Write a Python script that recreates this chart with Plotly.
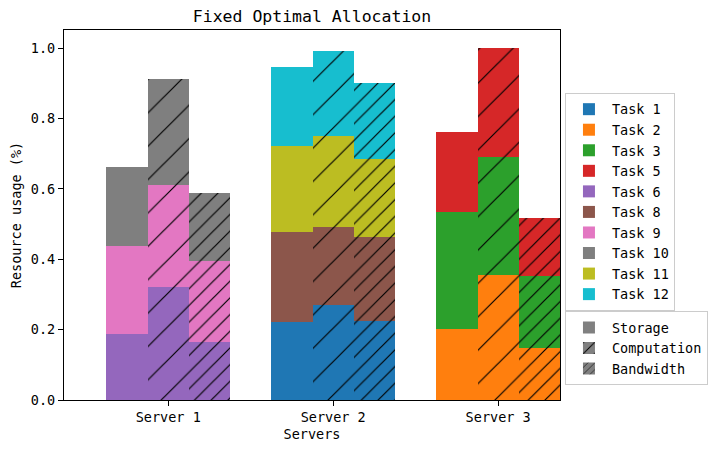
import plotly.graph_objects as go

# ---- data ----
servers = ["Server 1", "Server 2", "Server 3"]
tasks = ["Task 1", "Task 2", "Task 3", "Task 5", "Task 6", "Task 8",
         "Task 9", "Task 10", "Task 11", "Task 12"]
task_server = [1, 2, 2, 2, 0, 1, 0, 0, 1, 1]  # index into servers
storage = [0.223, 0.202, 0.333, 0.227, 0.188, 0.255, 0.250, 0.225, 0.244, 0.225]
computation = [0.270, 0.355, 0.336, 0.309, 0.321, 0.222, 0.289, 0.303, 0.259, 0.241]
bandwidth = [0.225, 0.148, 0.205, 0.165, 0.165, 0.239, 0.230, 0.194, 0.220, 0.218]
resources = ["Storage", "Computation", "Bandwidth"]

# ---- styles ----
colors = ["#1f77b4", "#ff7f0e", "#2ca02c", "#d62728", "#9467bd", "#8c564b",
          "#e377c2", "#7f7f7f", "#bcbd22", "#17becf"]
offsets = [-0.25, 0.0, 0.25]
bar_w = 0.25
shapes = ["", "/", "/"]
psizes = [23.6, 23.6, 11.8]
psolid = [0.05, 0.05, 0.1]
FONT = "DejaVu Sans Mono"

fig = go.Figure()
for i, t in enumerate(tasks):
    s = task_server[i]
    xs = [s + o for o in offsets]
    ys = [storage[i], computation[i], bandwidth[i]]
    fig.add_trace(go.Bar(
        x=xs, y=ys, name=t, width=bar_w, legend="legend",
        marker=dict(color=colors[i], line=dict(width=0),
                    pattern=dict(shape=shapes, size=psizes, solidity=psolid,
                                 fgcolor="black", fgopacity=1, bgcolor=colors[i],
                                 fillmode="overlay")),
        hoverinfo="skip",
    ))

for j, r in enumerate(resources):
    fig.add_trace(go.Bar(
        x=[None], y=[None], name=r, legend="legend2",
        marker=dict(color="#808080", line=dict(width=0),
                    pattern=dict(shape=shapes[j], size=[12, 12, 6][j], solidity=0.12,
                                 fgcolor="black", fgopacity=1, bgcolor="#808080",
                                 fillmode="overlay")),
    ))

axis_common = dict(showline=True, linecolor="black", linewidth=1.1, mirror=True,
                   ticks="outside", ticklen=5, tickwidth=1.1, tickcolor="black",
                   showgrid=False, zeroline=False,
                   tickfont=dict(family=FONT, size=13.5, color="black"))

W, H = 709, 445  # page adds 8px body margin
fig.update_layout(
    width=W, height=H,
    margin=dict(l=56, r=157, t=22, b=53, autoexpand=False),
    paper_bgcolor="white", plot_bgcolor="white",
    barmode="stack", bargap=0,
    font=dict(family=FONT, size=13.5, color="black"),
    title=dict(text="Fixed Optimal Allocation", x=(304 / W), xanchor="center",
               y=1 - 8 / H, yanchor="middle",
               font=dict(family=FONT, size=16.5, color="black")),
    xaxis=dict(axis_common, range=[-0.632, 2.375], tickvals=[0, 1, 2], ticktext=servers,
               title=dict(text="Servers", standoff=5,
                          font=dict(family=FONT, size=13.5, color="black"))),
    yaxis=dict(axis_common, range=[0, 1.052], tickvals=[0, 0.2, 0.4, 0.6, 0.8, 1.0],
               tickformat=".1f",
               title=dict(text="Resource usage (%)", standoff=8,
                          font=dict(family=FONT, size=13.5, color="black"))),
    legend=dict(x=1.01, y=0.83, xanchor="left", yanchor="top",
                bordercolor="#cccccc", borderwidth=1, bgcolor="white",
                font=dict(family=FONT, size=13.5), tracegroupgap=0,
                traceorder="normal", itemwidth=36),
    legend2=dict(x=1.01, y=0.24, xanchor="left", yanchor="top",
                 bordercolor="#cccccc", borderwidth=1, bgcolor="white",
                 font=dict(family=FONT, size=13.5), tracegroupgap=0,
                 traceorder="normal", itemwidth=36),
)

fig.write_html("out.html")
